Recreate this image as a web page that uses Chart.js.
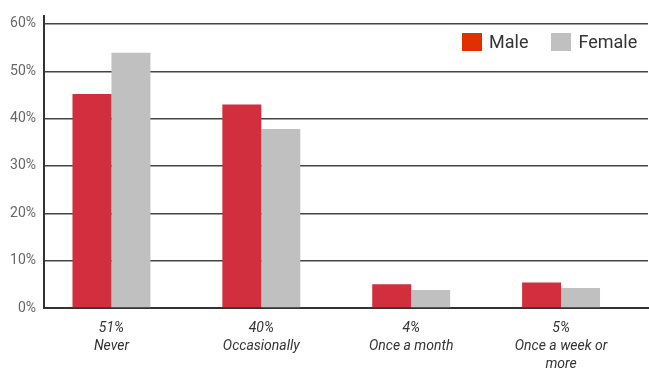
<!DOCTYPE html>
<html>
<head>
<meta charset="utf-8">
<script src="https://cdn.jsdelivr.net/npm/chart.js@4/dist/chart.umd.min.js"></script>
<style>
  html, body { margin: 0; padding: 0; background: #fff; }
  #wrap { position: relative; width: 649px; height: 372px; }
  #legend { position: absolute; left: 462px; top: 31px; display: flex; align-items: center;
            font-family: Roboto, sans-serif; font-size: 18px; color: #333; }
  #legend .item { display: flex; align-items: center; margin-right: 23px; }
  #legend .item:last-child { margin-right: 0; }
  #legend .sw { width: 20px; height: 18px; margin-right: 7px; }
</style>
</head>
<body>
<div id="wrap">
  <canvas id="freqChart" width="649" height="372"></canvas>
  <div id="legend"></div>
</div>
<script>
const categories = [
  ['51%', 'Never'],
  ['40%', 'Occasionally'],
  ['4%', 'Once a month'],
  ['5%', 'Once a week or', 'more']
];
const maleValues = [45.2, 43.0, 5.0, 5.4];
const femaleValues = [53.9, 37.8, 3.8, 4.2];
const yTicks = [0, 10, 20, 30, 40, 50, 60];

const toPoints = (vals) => vals.map((v, i) => ({ x: i, y: v }));

const ctx = document.getElementById('freqChart');
const chart = new Chart(ctx, {
  type: 'bar',
  data: {
    datasets: [
      { label: 'Male', data: toPoints(maleValues), backgroundColor: '#d12f3d', legendColor: '#e03000' },
      { label: 'Female', data: toPoints(femaleValues), backgroundColor: '#c0c0c0', legendColor: '#c0c0c0' }
    ]
  },
  options: {
    responsive: false,
    animation: false,
    layout: { padding: { top: 11, right: 1, left: 0, bottom: 0 } },
    datasets: { bar: { categoryPercentage: 0.52, barPercentage: 1.0 } },
    plugins: {
      tooltip: { enabled: false },
      legend: { display: false }
    },
    scales: {
      x: {
        type: 'linear',
        min: -0.45,
        max: 3.58,
        offset: false,
        afterBuildTicks: (s) => { s.ticks = categories.map((_, i) => ({ value: i })); },
        afterFit: (s) => { s.height = 64; },
        grid: { display: false },
        border: { display: true, color: '#333', width: 2 },
        ticks: {
          padding: 3,
          maxRotation: 0,
          autoSkip: false,
          color: '#333',
          font: { family: 'Roboto', size: 14, style: 'italic', lineHeight: 1.3 },
          callback: (v) => categories[v] || ''
        }
      },
      y: {
        min: 0,
        max: 61.6,
        afterBuildTicks: (s) => { s.ticks = yTicks.map((v) => ({ value: v })); },
        afterFit: (s) => { s.width = 44; },
        grid: { color: '#444', lineWidth: 1.5, drawTicks: false },
        border: { display: true, color: '#333', width: 2 },
        ticks: {
          padding: 8,
          color: '#666',
          font: { family: 'Roboto', size: 14 },
          callback: (v) => v + '%'
        }
      }
    }
  }
});

// html legend, built from the datasets
const legendEl = document.getElementById('legend');
chart.data.datasets.forEach((ds) => {
  const item = document.createElement('div');
  item.className = 'item';
  const sw = document.createElement('span');
  sw.className = 'sw';
  sw.style.background = ds.legendColor;
  const txt = document.createElement('span');
  txt.textContent = ds.label;
  item.appendChild(sw);
  item.appendChild(txt);
  legendEl.appendChild(item);
});
</script>
</body>
</html>
